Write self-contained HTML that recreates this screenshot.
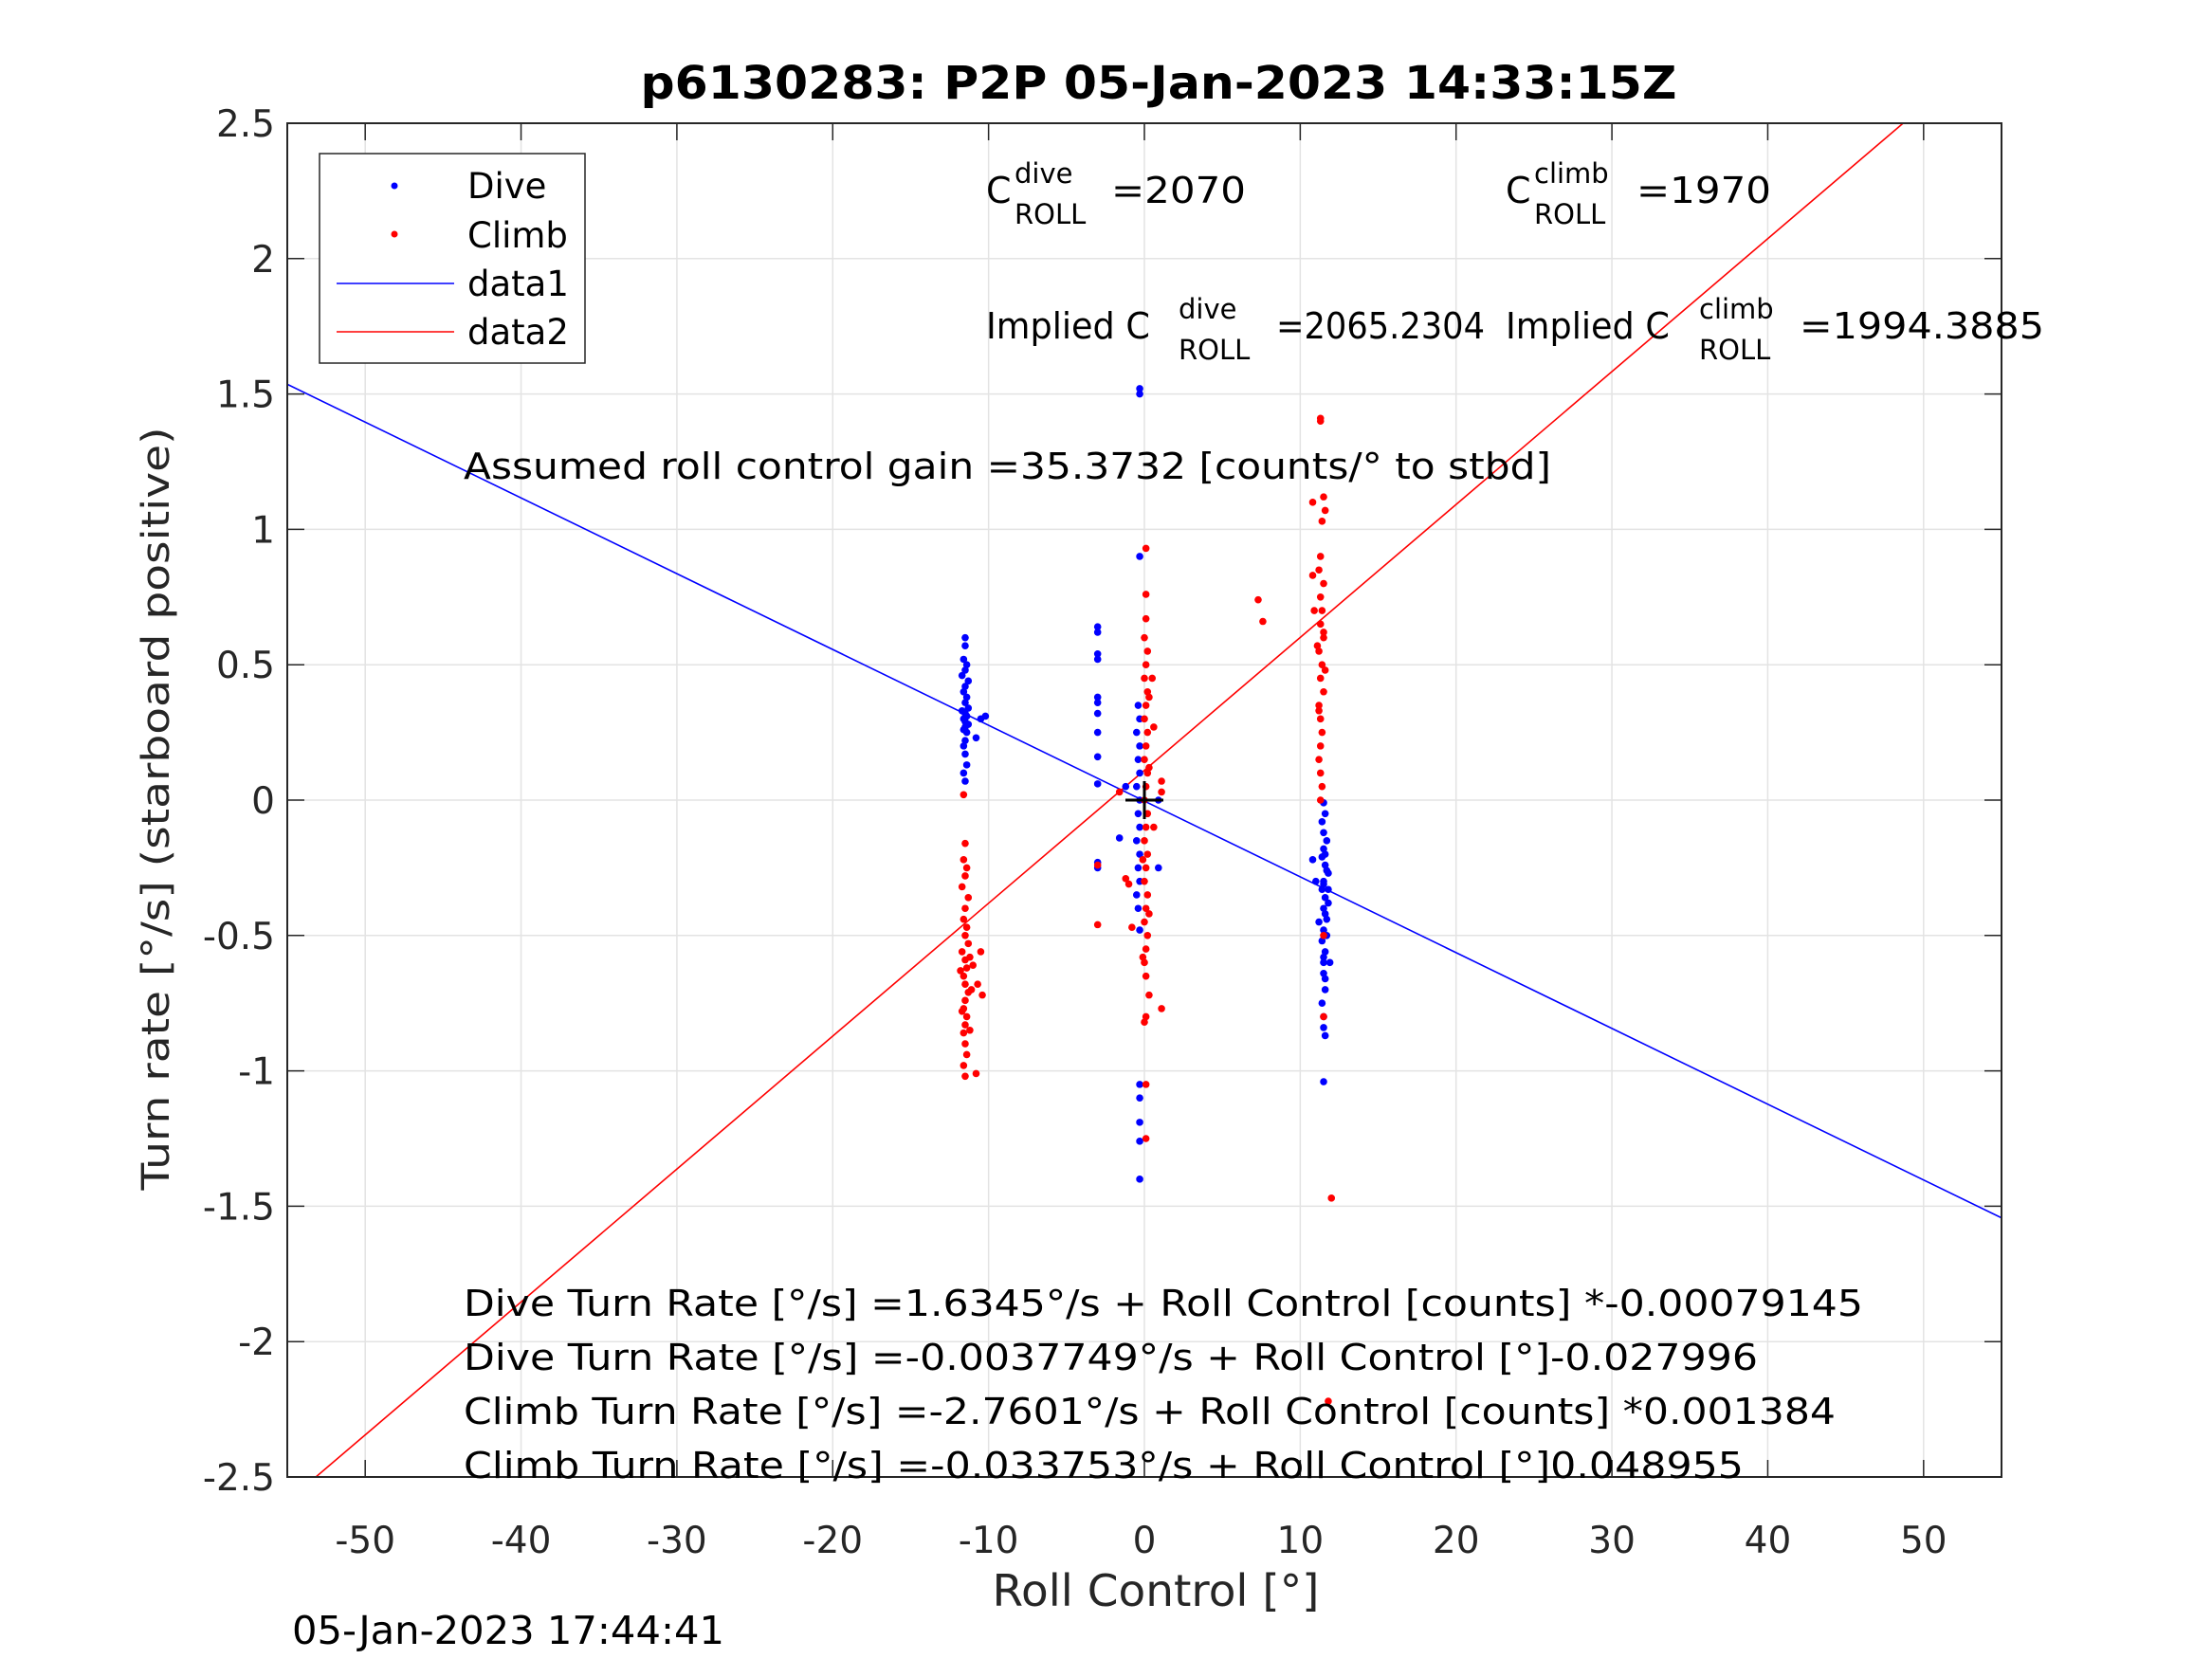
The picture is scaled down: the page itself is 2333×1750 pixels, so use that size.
<!DOCTYPE html>
<html><head><meta charset="utf-8"><style>
html,body{margin:0;padding:0;background:#fff;}
svg{display:block;}
text{font-family:"DejaVu Sans","Liberation Sans",sans-serif;}
</style></head><body>
<svg id="chart" width="2333" height="1750" viewBox="0 0 2333 1750" xmlns="http://www.w3.org/2000/svg">
<defs><clipPath id="plotclip"><rect x="303" y="130" width="1808" height="1428"/></clipPath></defs>
<rect x="0" y="0" width="2333" height="1750" fill="#fff"/>
<rect x="303" y="130" width="1808" height="1428" fill="#fff"/>
<g id="grid"></g>
<g id="fits" clip-path="url(#plotclip)"></g>
<g id="pts" clip-path="url(#plotclip)"></g>
<g id="cross"></g>
<g id="axes"></g>
<text x="1222" y="104" font-size="48" font-weight="bold" text-anchor="middle" fill="#000" textLength="1093" lengthAdjust="spacingAndGlyphs">p6130283: P2P 05-Jan-2023 14:33:15Z</text>
<text x="1219" y="1694" font-size="46" text-anchor="middle" fill="#262626" textLength="345" lengthAdjust="spacingAndGlyphs">Roll Control [°]</text>
<text transform="translate(178,853) rotate(-90)" font-size="40" text-anchor="middle" fill="#262626" textLength="805" lengthAdjust="spacingAndGlyphs">Turn rate [°/s] (starboard positive)</text>
<text x="308" y="1734" font-size="41" fill="#000" textLength="456" lengthAdjust="spacingAndGlyphs">05-Jan-2023 17:44:41</text>

<g fill="#000" font-size="38">
<text x="1040" y="214">C</text><text x="1070" y="193" font-size="29">dive</text><text x="1070" y="236" font-size="29">ROLL</text><text x="1172" y="214" textLength="142" lengthAdjust="spacingAndGlyphs">=2070</text></g>
<g fill="#000" font-size="38">
<text x="1588" y="214">C</text><text x="1618" y="193" font-size="29">climb</text><text x="1618" y="236" font-size="29">ROLL</text><text x="1726" y="214" textLength="142" lengthAdjust="spacingAndGlyphs">=1970</text></g>
<g fill="#000" font-size="38">
<text x="1040" y="357" textLength="173" lengthAdjust="spacingAndGlyphs">Implied C</text><text x="1243" y="336" font-size="29">dive</text><text x="1243" y="379" font-size="29">ROLL</text><text x="1346" y="357" textLength="220" lengthAdjust="spacingAndGlyphs">=2065.2304</text></g>
<g fill="#000" font-size="38">
<text x="1588" y="357" textLength="173" lengthAdjust="spacingAndGlyphs">Implied C</text><text x="1792" y="336" font-size="29">climb</text><text x="1792" y="379" font-size="29">ROLL</text><text x="1898" y="357" textLength="258" lengthAdjust="spacingAndGlyphs">=1994.3885</text></g>
<text x="489" y="505" font-size="38" fill="#000" textLength="1147" lengthAdjust="spacingAndGlyphs">Assumed roll control gain =35.3732 [counts/° to stbd]</text>
<g fill="#000" font-size="38">
<text x="489" y="1388" textLength="1476" lengthAdjust="spacingAndGlyphs">Dive Turn Rate [°/s] =1.6345°/s + Roll Control [counts] *-0.00079145</text>
<text x="489" y="1445" textLength="1365" lengthAdjust="spacingAndGlyphs">Dive Turn Rate [°/s] =-0.0037749°/s + Roll Control [°]-0.027996</text>
<text x="489" y="1502" textLength="1447" lengthAdjust="spacingAndGlyphs">Climb Turn Rate [°/s] =-2.7601°/s + Roll Control [counts] *0.001384</text>
<text x="489" y="1559" textLength="1350" lengthAdjust="spacingAndGlyphs">Climb Turn Rate [°/s] =-0.033753°/s + Roll Control [°]0.048955</text>
</g>
<g>
<rect x="337" y="162" width="280" height="221" fill="#fff" stroke="#262626" stroke-width="1.5"/>
<circle cx="416" cy="196" r="3.5" fill="#00f"/>
<text x="493" y="209" font-size="37" fill="#000">Dive</text>
<circle cx="416" cy="247" r="3.5" fill="#f00"/>
<text x="493" y="261" font-size="37" fill="#000">Climb</text>
<line x1="355" y1="299" x2="479" y2="299" stroke="#00f" stroke-width="1.5"/>
<text x="493" y="312" font-size="37" fill="#000">data1</text>
<line x1="355" y1="350" x2="479" y2="350" stroke="#f00" stroke-width="1.5"/>
<text x="493" y="363" font-size="37" fill="#000">data2</text>
</g>
</svg>
<script>
const xTicks=[-50,-40,-30,-20,-10,0,10,20,30,40,50];
const yTicks=[-2.5,-2,-1.5,-1,-0.5,0,0.5,1,1.5,2,2.5];
const yTickLabels=["-2.5","-2","-1.5","-1","-0.5","0","0.5","1","1.5","2","2.5"];
const xDomain=[-55,55];
const yDomain=[-2.5,2.5];
const fitX=[-55,55];
const diveFitY=[1.536,-1.543];
const climbFitY=[-2.59,2.81];
const diveX=[-11.5,-11.5,-11.6,-11.4,-11.5,-11.7,-11.3,-11.5,-11.6,-11.4,-11.5,-11.3,-11.7,-11.5,-11.4,-11.6,-11.5,-11.3,-11.5,-11.6,-11.4,-11.5,-11.6,-11.5,-11.4,-11.6,-11.5,-10.5,-10.2,-10.8,
-3,-3,-3,-3,-3,-3,-3,-3,-3,-3,-3,-3,-1.6,-1.2,
-0.3,-0.3,-0.3,-0.4,-0.3,-0.5,-0.3,-0.4,-0.3,-0.5,-0.3,-0.4,-0.3,-0.5,-0.3,-0.4,-0.3,-0.5,-0.4,-0.3,-0.3,-0.3,-0.3,-0.3,-0.3,0.9,0.9,
11.5,11.6,11.4,11.5,11.7,11.5,11.4,11.6,11.8,11.5,11.4,11.6,11.5,11.7,11.5,11.4,11.6,11.5,11.5,11.6,11.4,11.5,11.5,11.6,11.5,10.8,11.0,11.2,11.8,11.9,
11.6,11.7,11.5,11.8,11.6,11.7,11.5,11.6];
const diveY=[0.60,0.57,0.52,0.50,0.48,0.46,0.44,0.42,0.40,0.38,0.36,0.34,0.33,0.32,0.31,0.30,0.29,0.28,0.27,0.26,0.25,0.22,0.20,0.17,0.13,0.10,0.07,0.30,0.31,0.23,
0.64,0.62,0.54,0.52,0.38,0.36,0.32,0.25,0.16,0.06,-0.23,-0.25,-0.14,0.05,
1.52,1.50,0.90,0.35,0.30,0.25,0.20,0.15,0.10,0.05,0.00,-0.05,-0.10,-0.15,-0.20,-0.25,-0.30,-0.35,-0.40,-0.48,-1.05,-1.10,-1.19,-1.26,-1.40,-0.25,0.00,
-0.01,-0.05,-0.08,-0.12,-0.15,-0.18,-0.21,-0.24,-0.27,-0.30,-0.33,-0.36,-0.40,-0.44,-0.48,-0.52,-0.56,-0.60,-0.64,-0.70,-0.75,-0.80,-0.84,-0.87,-1.04,-0.22,-0.30,-0.45,-0.33,-0.60,
-0.20,-0.26,-0.31,-0.38,-0.42,-0.50,-0.58,-0.66];
const climbX=[-11.6,-11.5,-11.6,-11.4,-11.5,-11.7,-11.3,-11.5,-11.6,-11.4,-11.5,-11.3,-11.7,-11.5,-11.4,-11.6,-11.5,-11.3,-11.5,-11.6,-11.4,-11.5,-11.6,-11.5,-11.4,-11.6,-11.5,-10.5,-10.7,-10.4,-10.8,
-3,-3,-1.2,-1.0,-0.8,-1.6,
0.1,0.1,0.1,0.0,0.2,0.1,0.0,0.2,0.1,0.0,0.2,0.1,0.0,0.2,0.1,0.0,0.2,0.1,0.0,0.2,0.1,0.0,0.2,0.1,0.0,0.2,0.1,0.0,0.1,0.1,0.0,0.1,0.1,0.6,0.6,0.5,
1.1,1.1,1.1,7.3,7.6,
11.3,11.3,11.5,10.8,11.6,11.4,11.3,11.2,10.8,11.5,11.3,11.4,10.9,11.3,11.5,11.2,11.4,11.3,11.5,11.2,11.3,11.4,11.3,11.2,11.3,11.4,11.3,11.5,11.5,12.0,11.8,
-11.2,-11.8,-11.1,-11.7,-11.2,-11.0,0.3,0.3,-0.1,0.3,-0.1,0.3,11.5,11.1,11.6,11.2];
const climbY=[0.02,-0.16,-0.22,-0.25,-0.28,-0.32,-0.36,-0.40,-0.44,-0.47,-0.50,-0.53,-0.56,-0.59,-0.62,-0.65,-0.68,-0.71,-0.74,-0.77,-0.80,-0.83,-0.86,-0.90,-0.94,-0.98,-1.02,-0.56,-0.68,-0.72,-1.01,
-0.24,-0.46,-0.29,-0.31,-0.47,0.03,
0.93,0.76,0.67,0.60,0.55,0.50,0.45,0.40,0.35,0.30,0.25,0.20,0.15,0.10,0.05,0.00,-0.05,-0.10,-0.15,-0.20,-0.25,-0.30,-0.35,-0.40,-0.45,-0.50,-0.55,-0.60,-0.65,-0.80,-0.82,-1.05,-1.25,0.27,-0.10,0.45,
0.07,0.03,-0.77,0.74,0.66,
1.41,1.40,1.12,1.10,1.07,1.03,0.90,0.85,0.83,0.80,0.75,0.70,0.70,0.65,0.60,0.55,0.50,0.45,0.40,0.35,0.30,0.25,0.20,0.15,0.10,0.05,0.00,-0.50,-0.80,-1.47,-2.22,
-0.58,-0.63,-0.70,-0.78,-0.85,-0.61,0.38,0.12,-0.22,-0.42,-0.58,-0.72,0.62,0.57,0.48,0.33];

const NS="http://www.w3.org/2000/svg";
const L=303,R=2111,T=130,B=1558;
function sx(v){return L+(v-xDomain[0])/(xDomain[1]-xDomain[0])*(R-L);}
function sy(v){return B-(v-yDomain[0])/(yDomain[1]-yDomain[0])*(B-T);}
function mk(tag,attrs,parent){const e=document.createElementNS(NS,tag);for(const k in attrs)e.setAttribute(k,attrs[k]);parent.appendChild(e);return e;}
const grid=document.getElementById('grid'),axes=document.getElementById('axes'),fits=document.getElementById('fits'),pts=document.getElementById('pts');
xTicks.forEach((t,i)=>{
  const g=mk('line',{x1:sx(t),x2:sx(t),y1:T,y2:B,stroke:'#e3e3e3','stroke-width':1.5},grid);
  
  
  const tk1=mk('line',{x1:sx(t),x2:sx(t),y1:B,y2:B-18,stroke:'#262626','stroke-width':1.5},axes);
  
  
  const tk2=mk('line',{x1:sx(t),x2:sx(t),y1:T,y2:T+18,stroke:'#262626','stroke-width':1.5},axes);
  
  
  const lb=mk('text',{x:sx(t),y:1638,'font-size':39,'text-anchor':'middle',fill:'#262626'},axes);
  lb.textContent=String(t);
  
  
});
yTicks.forEach((t,i)=>{
  const g=mk('line',{x1:L,x2:R,y1:sy(t),y2:sy(t),stroke:'#e3e3e3','stroke-width':1.5},grid);
  
  
  const tk1=mk('line',{x1:L,x2:L+18,y1:sy(t),y2:sy(t),stroke:'#262626','stroke-width':1.5},axes);
  
  
  const tk2=mk('line',{x1:R,x2:R-18,y1:sy(t),y2:sy(t),stroke:'#262626','stroke-width':1.5},axes);
  
  
  const lb=mk('text',{x:290,y:sy(t)+14,'font-size':39,'text-anchor':'end',fill:'#262626'},axes);
  lb.textContent=yTickLabels[i];
  
  
});
const frame=mk('rect',{x:L,y:T,width:R-L,height:B-T,fill:'none',stroke:'#262626','stroke-width':2},axes);


const f1=mk('line',{x1:sx(fitX[0]),y1:sy(diveFitY[0]),x2:sx(fitX[1]),y2:sy(diveFitY[1]),stroke:'#00f','stroke-width':1.6},fits);


const f2=mk('line',{x1:sx(fitX[0]),y1:sy(climbFitY[0]),x2:sx(fitX[1]),y2:sy(climbFitY[1]),stroke:'#f00','stroke-width':1.6},fits);


diveX.forEach((x,i)=>{
  const c=mk('circle',{cx:sx(x),cy:sy(diveY[i]),r:3.8,fill:'#00f'},pts);
  
  
});
climbX.forEach((x,i)=>{
  const c=mk('circle',{cx:sx(x),cy:sy(climbY[i]),r:3.8,fill:'#f00'},pts);
  
  
});
const cr=document.getElementById('cross');
const ch=mk('line',{x1:sx(0)-20,x2:sx(0)+20,y1:sy(0),y2:sy(0),stroke:'#000','stroke-width':3},cr);


const cv=mk('line',{x1:sx(0),x2:sx(0),y1:sy(0)-20,y2:sy(0)+20,stroke:'#000','stroke-width':3},cr);


</script>
</body></html>
